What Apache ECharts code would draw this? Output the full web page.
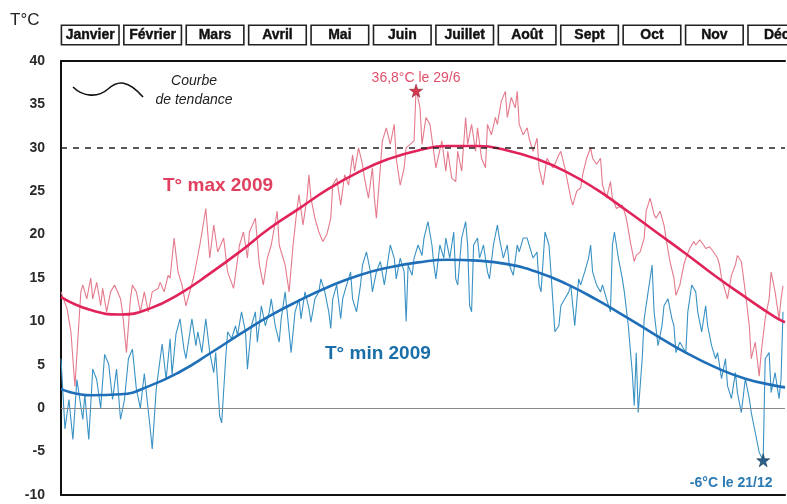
<!DOCTYPE html>
<html><head><meta charset="utf-8">
<script src="https://cdn.jsdelivr.net/npm/echarts@6/dist/echarts.min.js"></script>
<style>html,body{margin:0;padding:0;background:#fff}#c{width:787px;height:504px}</style>
</head><body><div id="c"></div>
<script>
const months = ['Janvier','Février','Mars','Avril','Mai','Juin','Juillet','Août','Sept','Oct','Nov','Déc'];
const yMin = -10, yMax = 40, yStep = 5;
// Daily maximum temperatures 2009 : [day of year (0 = 1 Jan), °C]
const maxDaily = [[0,13.4],[3,11.5],[5,8.8],[7,2.5],[10,13.4],[11,14.2],[13,12.6],[15,15.0],[16,12.6],[18,14.5],[20,11.8],[21,13.8],[23,11.1],[25,13.4],[27,14.2],[30,12.6],[31,11.1],[33,6.4],[35,12.6],[36,14.2],[38,13.4],[40,11.1],[42,13.4],[44,11.1],[46,13.4],[49,13.8],[50,14.5],[52,13.4],[54,15.3],[55,15.0],[57,19.6],[59,15.7],[61,14.2],[63,11.8],[67,15.2],[70,18.8],[73,23.0],[75,17.3],[77,21.1],[79,18.0],[82,19.6],[84,15.7],[87,13.8],[90,18.8],[92,20.3],[94,17.3],[95,20.3],[98,21.9],[100,16.5],[102,14.2],[104,17.3],[106,18.8],[109,22.7],[110,18.8],[113,16.5],[115,13.4],[117,18.8],[119,23.0],[120,24.6],[122,21.1],[124,24.2],[125,26.9],[126,24.2],[128,21.9],[130,20.3],[132,19.2],[134,20.0],[136,21.9],[137,25.7],[139,26.5],[141,23.4],[143,26.9],[145,25.7],[147,29.2],[148,27.3],[150,30.0],[152,28.1],[153,26.5],[155,24.2],[157,27.7],[158,24.2],[159,21.9],[161,27.7],[162,30.8],[164,32.3],[166,30.4],[168,32.7],[169,28.8],[171,25.7],[173,27.7],[174,30.0],[176,30.4],[178,30.8],[179,36.8],[181,34.6],[182,30.4],[184,33.5],[186,32.7],[189,27.7],[192,30.8],[194,27.3],[195,29.6],[197,26.5],[199,26.1],[200,29.6],[202,27.3],[204,33.5],[205,30.4],[207,32.7],[209,29.6],[210,32.3],[212,28.8],[214,27.7],[215,32.7],[217,31.5],[219,33.5],[220,32.7],[222,35.4],[224,36.5],[225,33.5],[227,35.8],[229,34.6],[230,36.5],[231,32.7],[233,31.5],[235,32.3],[236,31.1],[238,29.6],[240,31.1],[241,27.7],[243,25.7],[245,28.8],[246,28.4],[248,27.7],[249,28.1],[251,29.2],[252,29.6],[254,27.7],[257,24.2],[258,23.4],[260,25.0],[262,25.4],[263,26.9],[265,28.8],[267,30.0],[268,28.8],[270,28.1],[272,28.8],[273,25.7],[275,24.2],[277,26.1],[278,24.2],[280,23.0],[283,23.4],[285,21.9],[287,19.2],[289,16.9],[290,17.6],[292,18.0],[294,19.6],[295,22.7],[297,24.2],[299,22.3],[300,21.9],[302,22.7],[304,21.1],[305,19.6],[307,16.9],[309,15.0],[310,13.0],[312,14.2],[314,16.5],[315,17.3],[317,18.4],[319,19.2],[320,18.8],[322,19.4],[324,18.8],[325,18.4],[327,18.6],[329,18.0],[331,17.3],[332,16.5],[333,15.0],[335,13.4],[336,12.6],[338,15.3],[340,16.5],[341,17.6],[343,16.9],[345,13.4],[347,9.5],[348,5.7],[350,7.6],[352,3.7],[353,6.4],[355,10.3],[357,12.6],[358,15.7],[360,13.4],[362,10.3],[363,12.6],[364,14.1]];
// Daily minimum temperatures 2009
const minDaily = [[0,5.7],[2,-2.4],[4,1.0],[6,-3.6],[8,3.3],[11,-1.3],[12,1.6],[14,-3.6],[16,4.5],[18,3.3],[20,0.0],[22,6.2],[24,5.1],[26,1.0],[28,4.5],[30,-1.3],[32,1.0],[34,5.7],[36,6.8],[38,2.2],[40,0.0],[42,4.0],[45,-2.4],[46,-4.7],[48,2.2],[50,5.7],[51,7.4],[53,3.3],[55,8.0],[56,3.9],[58,8.6],[60,10.3],[62,6.8],[63,5.7],[66,10.3],[68,7.2],[69,8.8],[71,6.4],[73,10.3],[75,6.4],[77,4.1],[78,6.4],[80,-0.9],[81,-1.7],[83,5.7],[84,8.8],[86,8.0],[88,9.5],[89,8.4],[91,11.1],[93,8.8],[94,4.5],[96,9.5],[98,11.1],[99,7.6],[101,11.8],[103,9.5],[105,11.1],[106,12.6],[108,9.5],[110,7.6],[111,10.3],[113,13.4],[115,8.8],[116,6.4],[118,11.1],[120,12.6],[121,10.3],[123,13.4],[125,11.5],[126,9.9],[128,12.6],[130,13.4],[131,14.9],[133,13.4],[135,11.1],[136,9.2],[137,12.6],[139,14.2],[141,10.3],[142,12.6],[144,14.2],[146,15.7],[147,12.6],[149,11.1],[151,14.2],[152,16.5],[154,18.0],[156,15.7],[157,13.4],[159,15.7],[161,16.9],[163,14.2],[164,15.7],[166,18.8],[168,17.3],[169,14.9],[171,17.3],[173,15.7],[174,10.0],[175,16.5],[177,15.3],[178,17.3],[180,18.8],[182,17.6],[183,19.6],[185,21.5],[187,18.8],[188,16.5],[189,14.9],[191,18.8],[193,17.3],[194,19.6],[196,17.3],[198,20.3],[199,14.9],[200,14.2],[202,19.6],[204,21.5],[205,18.8],[206,11.8],[207,11.1],[208,18.8],[210,19.6],[211,17.3],[213,18.8],[215,15.7],[216,14.9],[218,18.8],[220,21.1],[221,19.6],[223,17.3],[225,18.8],[226,16.5],[228,15.3],[230,18.8],[231,18.0],[233,19.6],[235,19.6],[236,18.8],[238,17.3],[240,18.0],[241,14.2],[242,13.4],[244,20.3],[246,18.8],[247,15.7],[249,8.8],[251,9.5],[252,11.8],[254,12.6],[256,13.4],[257,14.2],[259,9.5],[261,14.9],[262,14.2],[264,15.7],[266,17.3],[267,18.8],[268,15.7],[270,14.2],[272,13.4],[273,14.2],[275,12.6],[277,11.1],[278,18.8],[279,20.3],[281,17.3],[283,14.9],[284,13.4],[286,9.5],[288,4.1],[289,0.3],[290,6.4],[291,-0.5],[293,5.7],[294,10.3],[296,13.4],[298,16.5],[299,11.1],[301,7.2],[303,9.5],[304,11.8],[306,12.6],[308,10.3],[309,9.5],[310,6.4],[312,7.6],[315,6.4],[316,11.1],[318,14.2],[320,13.4],[321,11.1],[323,8.8],[325,11.8],[326,9.5],[328,7.2],[330,5.7],[331,6.4],[333,3.4],[335,5.7],[336,2.6],[338,1.1],[340,4.1],[341,1.8],[343,-0.5],[345,3.4],[347,1.1],[348,-0.5],[350,-2.8],[352,-5.1],[354,-6.0],[355,5.7],[357,6.4],[358,1.8],[360,4.1],[362,1.1],[363,3.4],[364,11.1]];
// Trend curves (read every 15 days)
const maxTrend = [[0,12.8],[15,11.3],[30,10.8],[45,11.5],[60,13.2],[75,15.5],[90,18.0],[105,20.7],[120,23.0],[135,25.3],[150,27.2],[165,28.7],[180,29.7],[195,30.2],[210,30.2],[225,29.7],[240,28.7],[255,27.2],[270,25.2],[285,22.8],[300,20.3],[315,17.8],[330,15.2],[345,12.8],[360,10.5],[365,9.9]];
const minTrend = [[0,2.2],[15,1.5],[30,1.6],[45,2.6],[60,4.2],[75,6.3],[90,8.5],[105,10.6],[120,12.4],[135,14.0],[150,15.3],[165,16.2],[180,16.8],[195,17.1],[210,17.0],[225,16.6],[240,15.7],[255,14.3],[270,12.5],[285,10.5],[300,8.4],[315,6.4],[330,4.7],[345,3.4],[360,2.6],[365,2.4]];
const records = { max: [179, 36.8, '36,8°C le 29/6'], min: [354, -6.0, '-6°C le 21/12'] };
const refLine = 30;

const STAR = 'path://M50,0 L61,35 L98,35 L68,57 L79,91 L50,70 L21,91 L32,57 L2,35 L39,35 Z';
const FONT = 'Arial, "Liberation Sans", sans-serif';
const chart = echarts.init(document.getElementById('c'), null, {renderer: 'canvas'});
chart.setOption({
  animation: false,
  backgroundColor: '#fff',
  grid: [
    {left: 61, right: 2, top: 61, bottom: 9, outerBoundsMode: 'none', containLabel: false},
    {left: 59, width: 749, top: 34, height: 1, outerBoundsMode: 'none', containLabel: false}
  ],
  xAxis: [
    {type: 'value', gridIndex: 0, min: 0, max: 365, position: 'bottom',
     axisLine: {show: true, onZero: false, lineStyle: {color: '#111', width: 2}},
     axisTick: {show: false}, axisLabel: {show: false}, splitLine: {show: false}},
    {type: 'value', gridIndex: 0, min: 0, max: 365, position: 'top',
     axisLine: {show: true, onZero: false, lineStyle: {color: '#111', width: 2}},
     axisTick: {show: false}, axisLabel: {show: false}, splitLine: {show: false}},
    {type: 'category', gridIndex: 1, data: months, boundaryGap: true, position: 'bottom',
     axisLine: {show: false}, axisTick: {show: false}, splitLine: {show: false},
     axisLabel: {interval: 0, margin: 0, verticalAlign: 'middle', fontFamily: '"Liberation Sans Narrow", Arial, sans-serif',
       fontWeight: 'bold', fontSize: 14, color: '#111', width: 54, align: 'center', lineHeight: 15,
       padding: [2, 1, 1, 1], borderColor: '#222', borderWidth: 1.6, backgroundColor: '#fff',
       textBorderColor: '#111', textBorderWidth: 0.4}}
  ],
  yAxis: [
    {type: 'value', gridIndex: 0, min: yMin, max: yMax, interval: yStep,
     axisLine: {show: true, lineStyle: {color: '#111', width: 2}},
     axisTick: {show: false}, splitLine: {show: false},
     axisLabel: {margin: 16, color: '#2a2a2a', fontSize: 14, fontWeight: 'bold', fontFamily: FONT}},
    {type: 'value', gridIndex: 1, show: false}
  ],
  series: [
    {type: 'line', name: 'T° max', xAxisIndex: 0, yAxisIndex: 0, data: maxDaily, showSymbol: false,
     lineStyle: {color: '#e57a8c', width: 1.1}, z: 2,
     markLine: {silent: true, symbol: ['none', 'none'], label: {show: false},
       data: [{yAxis: refLine, lineStyle: {type: [6, 6], color: '#222', width: 1.5}},
              {yAxis: 0, lineStyle: {type: 'solid', color: '#888', width: 1}}]},
     markPoint: {symbol: STAR, symbolSize: 13, symbolOffset: [0, 2], itemStyle: {color: '#d6384f', borderColor: '#8a1d2c', borderWidth: 0.6},
       label: {show: true, position: 'top', distance: 0, offset: [0, 1], formatter: records.max[2], color: '#e0506a', fontSize: 14, fontFamily: FONT},
       data: [{coord: [records.max[0], records.max[1]]}]}},
    {type: 'line', name: 'T° min', xAxisIndex: 0, yAxisIndex: 0, data: minDaily, showSymbol: false,
     lineStyle: {color: '#3a92c4', width: 1.1}, z: 2,
     markPoint: {symbol: STAR, symbolSize: 13, itemStyle: {color: '#2b5f8a', borderColor: '#17384f', borderWidth: 0.6},
       label: {show: true, position: 'bottom', distance: 9, offset: [-32, 0], formatter: records.min[2], color: '#2a7ab5', fontSize: 14, fontWeight: 'bold', fontFamily: FONT},
       data: [{coord: [records.min[0], records.min[1]]}]}},
    {type: 'line', name: 'tendance max', xAxisIndex: 0, yAxisIndex: 0, data: maxTrend, showSymbol: false, smooth: true,
     lineStyle: {color: '#e0245a', width: 2.6}, z: 3},
    {type: 'line', name: 'tendance min', xAxisIndex: 0, yAxisIndex: 0, data: minTrend, showSymbol: false, smooth: true,
     lineStyle: {color: '#1f6fb8', width: 2.6}, z: 3}
  ],
  graphic: [
    {type: 'text', x: 10, y: 12, style: {text: 'T°C', fontSize: 17, fill: '#222', fontFamily: FONT}},
    {type: 'text', x: 163, y: 176, style: {text: 'T° max 2009', fontSize: 19, fontWeight: 'bold', fill: '#e0405f', fontFamily: FONT}},
    {type: 'text', x: 325, y: 344, style: {text: 'T° min 2009', fontSize: 19, fontWeight: 'bold', fill: '#1a6fa8', fontFamily: FONT}},
    {type: 'text', x: 194, y: 72, style: {text: 'Courbe\nde tendance', align: 'center', lineHeight: 19, fontSize: 14, fontStyle: 'italic', fill: '#222', fontFamily: FONT}},
    {type: 'bezierCurve', shape: {x1: 73, y1: 87, x2: 108, y2: 89, cpx1: 83, cpy1: 97, cpx2: 98, cpy2: 98}, style: {stroke: '#111', lineWidth: 1.6, fill: null}},
    {type: 'bezierCurve', shape: {x1: 108, y1: 89, x2: 143, y2: 97, cpx1: 118, cpy1: 80, cpx2: 128, cpy2: 80}, style: {stroke: '#111', lineWidth: 1.6, fill: null}}
  ]
});
</script>
</body></html>
